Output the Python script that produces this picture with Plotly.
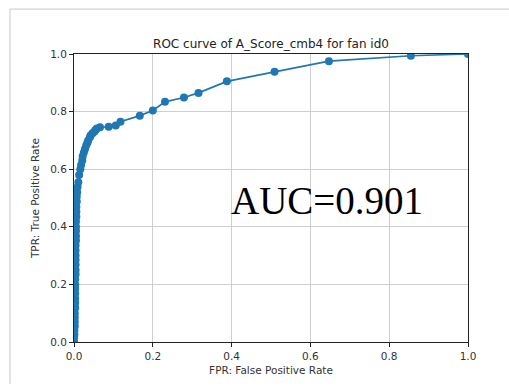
import plotly.graph_objects as go

# ROC operating points (false positive rate vs true positive rate)
fpr = [0.000, 0.000, 0.001, 0.001, 0.002, 0.002, 0.002, 0.002, 0.003, 0.003,
       0.003, 0.003, 0.003, 0.003, 0.003, 0.004, 0.004, 0.004, 0.004, 0.004,
       0.004, 0.004, 0.005, 0.005, 0.005, 0.005, 0.005, 0.006, 0.006, 0.006,
       0.007, 0.007, 0.008, 0.009, 0.011,
       0.013, 0.016, 0.018, 0.021, 0.022, 0.025, 0.028, 0.031, 0.034, 0.036,
       0.040, 0.042, 0.047, 0.052, 0.055, 0.058, 0.066, 0.088, 0.106, 0.118,
       0.167, 0.200, 0.231, 0.279, 0.316, 0.388, 0.509, 0.647, 0.855, 1.000]
tpr = [0.000, 0.012, 0.025, 0.040, 0.055, 0.070, 0.085, 0.100, 0.118, 0.135,
       0.150, 0.168, 0.185, 0.200, 0.218, 0.235, 0.250, 0.268, 0.285, 0.300,
       0.318, 0.335, 0.352, 0.368, 0.385, 0.400, 0.418, 0.435, 0.452, 0.470,
       0.488, 0.505, 0.520, 0.538, 0.555,
       0.580, 0.600, 0.615, 0.630, 0.645, 0.658, 0.670, 0.682, 0.692, 0.700,
       0.710, 0.717, 0.725, 0.731, 0.737, 0.741, 0.746, 0.747, 0.752, 0.765,
       0.786, 0.804, 0.834, 0.849, 0.865, 0.905, 0.938, 0.975, 0.994, 1.000]
auc_value = 0.901
tick_vals = [0.0, 0.2, 0.4, 0.6, 0.8, 1.0]

W, H = 509, 387
L, R, T, B = 74, 41, 54, 38
pw, ph = W - L - R, H - T - B

fig = go.Figure()
fig.add_trace(go.Scatter(
    x=fpr, y=tpr, mode="lines+markers",
    line=dict(color="#1f77b4", width=1.7),
    marker=dict(color="#1f77b4", size=8),
    cliponaxis=True, showlegend=False,
))

axis_common = dict(
    range=[0, 1], tickvals=tick_vals, tickformat=".1f",
    showgrid=True, gridcolor="#cfcfcf", gridwidth=1,
    showline=True, linecolor="#222222", linewidth=1, mirror=True,
    ticks="outside", ticklen=4, tickcolor="#222222", tickwidth=1,
    zeroline=False, tickfont=dict(family="DejaVu Sans", size=10.5, color="#333333"),
    fixedrange=True,
)
fig.update_xaxes(**axis_common,
                 title=dict(text="FPR: False Positive Rate", standoff=6,
                            font=dict(family="DejaVu Sans", size=10.5, color="#333333")))
fig.update_yaxes(**axis_common,
                 title=dict(text="TPR: True Positive Rate", standoff=8,
                            font=dict(family="DejaVu Sans", size=10.5, color="#333333")))

def px_x(p):
    return (p - L) / pw

def px_y(p):
    return (H - B - p) / ph

# light frame around the figure
fig.add_shape(type="line", xref="paper", yref="paper",
              x0=px_x(10), x1=px_x(W + 5), y0=px_y(8), y1=px_y(8),
              line=dict(color="#c8c8c8", width=1), layer="below")
fig.add_shape(type="line", xref="paper", yref="paper",
              x0=px_x(10), x1=px_x(10), y0=px_y(8), y1=px_y(H + 5),
              line=dict(color="#c8c8c8", width=1), layer="below")

fig.add_annotation(
    x=0.394, y=0.493, xref="x", yref="y", xanchor="left", yanchor="middle",
    text=f"AUC={auc_value:.3f}", showarrow=False,
    font=dict(family="Liberation Serif", size=39, color="#000000"),
)

fig.update_layout(
    width=W, height=H,
    margin=dict(l=L, r=R, t=T, b=B),
    paper_bgcolor="white", plot_bgcolor="white",
    title=dict(text="ROC curve of A_Score_cmb4 for fan id0",
               x=(L + pw / 2) / W, xanchor="center",
               y=1 - 44 / H, yanchor="middle",
               font=dict(family="DejaVu Sans", size=12, color="#222222")),
)

fig.write_html("out.html")
